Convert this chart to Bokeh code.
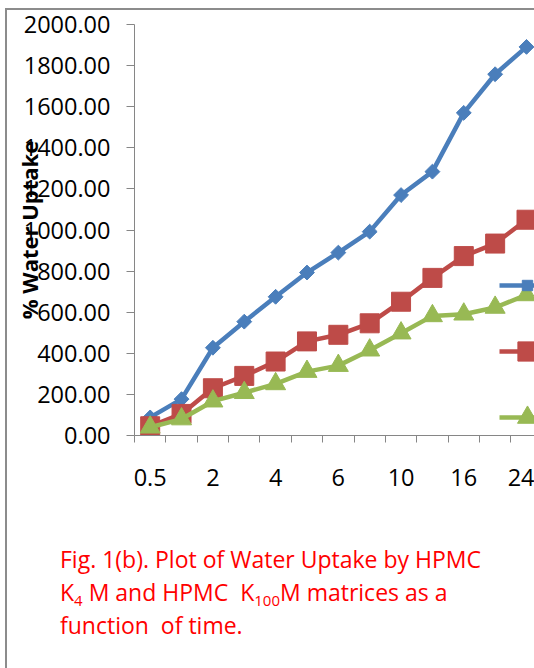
import numpy as np
from bokeh.plotting import figure
from bokeh.models import (Range1d, FixedTicker, SingleIntervalTicker, NumeralTickFormatter,
                          Legend, LegendItem, Div, ColumnDataSource)
from bokeh.layouts import column
from bokeh.embed import file_html
from bokeh.resources import INLINE

# ---- data ----
times = ["0.5", "1", "2", "3", "4", "5", "6", "8", "10", "12", "16", "20", "24"]
uptake_blue = [88, 177, 427, 554, 675, 793, 890, 992, 1170, 1284, 1570, 1758, 1891]
uptake_red = [45, 105, 230, 290, 360, 458, 490, 546, 651, 767, 873, 934, 1050]
uptake_green = [40, 80, 167, 208, 251, 311, 340, 415, 498, 582, 590, 623, 684]
y_ticks_step = 200
caption_line1 = "Fig. 1(b). Plot of Water Uptake by HPMC"
caption_line2_parts = ["K", "4", " M and HPMC\u00a0 K", "100", "M matrices as a"]
caption_line3 = "function\u00a0 of time."
y_title = "% Water Uptake"

x_idx = list(range(len(times)))
src = ColumnDataSource(dict(x=x_idx, time=times, blue=uptake_blue, red=uptake_red, green=uptake_green))

FONT = "Open Sans"
AXIS_GRAY = "#868686"

p = figure(frame_width=400, frame_height=411,
           min_border_left=134, min_border_right=0, min_border_top=24, min_border_bottom=103,
           x_range=Range1d(-0.5, 12.255), y_range=Range1d(0, 2000),
           output_backend="svg", toolbar_location=None,
           background_fill_color="white", border_fill_color=None,
           outline_line_color=None)
p.grid.visible = False

# y axis
p.yaxis.ticker = SingleIntervalTicker(interval=y_ticks_step, num_minor_ticks=0)
p.yaxis.formatter = NumeralTickFormatter(format="0.00")
p.yaxis.major_tick_in = 0
p.yaxis.major_tick_out = 8
p.yaxis.minor_tick_line_color = None
p.yaxis.axis_line_color = AXIS_GRAY
p.yaxis.major_tick_line_color = AXIS_GRAY
p.yaxis.major_label_text_font = FONT
p.yaxis.major_label_text_font_size = "23.5px"
p.yaxis.major_label_text_color = "#000000"
p.yaxis.major_label_standoff = 16
p.yaxis.axis_label = y_title
p.yaxis.axis_label_text_font = FONT
p.yaxis.axis_label_text_font_size = "22px"
p.yaxis.axis_label_text_font_style = "bold"
p.yaxis.axis_label_text_color = "#000000"
p.yaxis.axis_label_standoff = -23

# x axis: labels on every other category, tick marks between categories
label_idx = x_idx[::2]
boundaries = [i - 0.5 for i in x_idx] + [x_idx[-1] + 0.5]
p.xaxis.ticker = FixedTicker(ticks=label_idx, minor_ticks=boundaries)
p.xaxis.major_label_overrides = {i: times[i] for i in label_idx}
p.xaxis.major_tick_in = 0
p.xaxis.major_tick_out = 0
p.xaxis.minor_tick_in = 0
p.xaxis.minor_tick_out = 7
p.xaxis.minor_tick_line_color = AXIS_GRAY
p.xaxis.axis_line_color = AXIS_GRAY
p.xaxis.major_label_text_font = FONT
p.xaxis.major_label_text_font_size = "23.5px"
p.xaxis.major_label_text_color = "#000000"
p.xaxis.major_label_standoff = 26

series = [
    ("blue", "#4A7EBB", "square", 10.5, np.pi / 4, 26, (365, 136.7)),
    ("red", "#BE4B48", "square", 19, 0.0, 48, (365, 59.7)),
    ("green", "#98B954", "triangle", 20, 0.0, 50, (365, -7.3)),
]
for col, color, marker, size, ang, gh, loc in series:
    lr = p.line("x", col, source=src, line_color=color, line_width=4.5, line_join="round")
    sr = p.scatter("x", col, source=src, marker=marker, size=size, angle=ang,
                   fill_color=color, line_color=color)
    leg = Legend(items=[LegendItem(label=" ", renderers=[lr, sr])], location=loc,
                 glyph_width=56, glyph_height=gh, label_height=10, label_width=0,
                 padding=0, margin=0, spacing=0, label_standoff=0,
                 border_line_color=None, background_fill_alpha=0,
                 label_text_font_size="8px")
    p.add_layout(leg)

sub = "font-size:15px;position:relative;top:5px;line-height:0;"
line2 = (caption_line2_parts[0] + f'<span style="{sub}">{caption_line2_parts[1]}</span>'
         + caption_line2_parts[2] + f'<span style="{sub}">{caption_line2_parts[3]}</span>'
         + caption_line2_parts[4])
cap_html = ('<div style="font-family:\'Open Sans\';font-size:23px;line-height:33px;'
            'color:#ff0000;padding-left:60px;padding-top:5px;white-space:nowrap;margin:0;">'
            + caption_line1 + "<br>" + line2 + "<br>" + caption_line3 + "</div>")
cap = Div(text=cap_html, width=534, height=130, margin=0)

# chart-area border (left and top edges) drawn as background lines of the layout
border_css = {
    "background-image": "linear-gradient(#8c8c8c, #8c8c8c), linear-gradient(#8c8c8c, #8c8c8c)",
    "background-size": "2px calc(100% - 8px), calc(100% - 5px) 2px",
    "background-position": "5px 8px, 5px 8px",
    "background-repeat": "no-repeat",
}
layout = column(p, cap, margin=0, spacing=0, styles=border_css)

open("out.html", "w").write(file_html(layout, INLINE))
